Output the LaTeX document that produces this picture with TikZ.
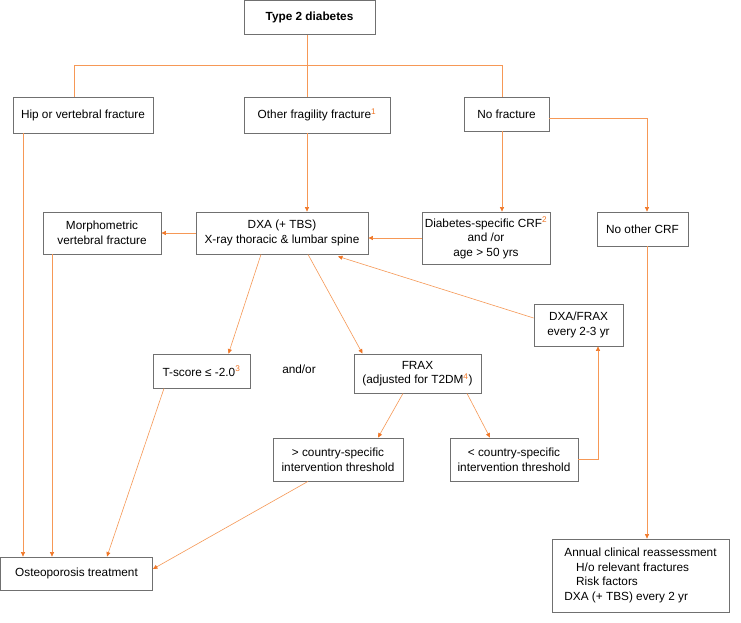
\documentclass[tikz,border=0pt]{standalone}
\usepackage{fontspec}
\setmainfont{Liberation Sans}
\usetikzlibrary{arrows.meta}
\definecolor{linkor}{RGB}{246,152,86}
\definecolor{tipor}{RGB}{240,118,38}
\definecolor{boxgray}{RGB}{112,112,112}
\newcommand{\fnote}[1]{\textsuperscript{\textcolor{tipor}{#1}}}

\begin{document}
\begin{tikzpicture}[x=1pt, y=-1pt,
    font=\fontsize{11.8}{14.6}\selectfont,
    box/.style={draw=boxgray, line width=0.8pt, fill=white, inner sep=0pt, align=center},
    link/.style={draw=linkor, line width=0.6pt},
    flow/.style={link, -{Triangle[length=4.5pt, width=4pt, color=tipor]}}]
    \fill[white] (0,0) rectangle (741,623);
    \useasboundingbox (0,0) rectangle (741,623);
    % top row
    \node[box, minimum width=131pt, minimum height=34pt, font=\fontsize{11.8}{14.6}\selectfont\bfseries] (t2d) at (309.5,17.5) {Type 2 diabetes};
    \node[box, minimum width=140pt, minimum height=36pt] (hip) at (83,115) {Hip or vertebral fracture};
    \node[box, minimum width=146pt, minimum height=36pt] (other) at (317,115) {Other fragility fracture\fnote{1}};
    \node[box, minimum width=85pt, minimum height=34pt] (nofx) at (506.5,114) {No fracture};
    \coordinate (busL) at (74,65);
    \coordinate (bus) at (307,65);
    \coordinate (busR) at (502,65);
    \coordinate (side) at (647,118);
    % second row
    \node[box, minimum width=118pt, minimum height=42pt] (morph) at (102,233) {Morphometric\\vertebral fracture};
    \node[box, minimum width=172pt, minimum height=42pt] (dxa) at (282,233) {DXA (+ TBS)\\X-ray thoracic \& lumbar spine};
    \node[box, minimum width=128pt, minimum height=52pt] (crf) at (486,238) {Diabetes-specific CRF\fnote{2}\\and /or\\age > 50 yrs};
    \node[box, minimum width=91pt, minimum height=34pt] (noother) at (642.5,229) {No other CRF};
    \node[box, minimum width=89pt, minimum height=42pt] (dxafrax) at (578.5,325) {DXA/FRAX\\every 2-3 yr};
    % assessment
    \node[box, minimum width=97pt, minimum height=34pt] (tscore) at (201.5,371) {T-score ≤ -2.0\fnote{3}};
    \node (andor) at (299,369) {and/or};
    \node[box, minimum width=127pt, minimum height=39pt] (frax) at (417.5,373.5) {FRAX\\(adjusted for T2DM\fnote{4})};
    \node[box, minimum width=130pt, minimum height=43pt] (above) at (338,459.5) {> country-specific\\intervention threshold};
    \node[box, minimum width=128pt, minimum height=43pt] (below) at (514,459.5) {< country-specific\\intervention threshold};
    % outcomes
    \node[box, minimum width=152pt, minimum height=33pt] (osteo) at (76.5,573.5) {Osteoporosis treatment};
    \node[box, minimum width=177pt, minimum height=73pt, align=left] (annual) at (640.5,575.5) {Annual clinical reassessment\\\hspace*{1em}H/o relevant fractures\\\hspace*{1em}Risk factors\\DXA (+ TBS) every 2 yr};

    \draw[link] (t2d.south -| bus) -- (other.north -| bus);
    \draw[link] (hip.north -| busL) |- (busR) -- (nofx.north -| busR);
    \draw[flow] (other.south -| bus) -- (dxa.north -| bus);
    \draw[flow] (nofx.south -| busR) -- (crf.north -| busR);
    \draw[flow] (nofx.east |- side) -| (noother.north -| side);
    \draw[flow] (dxa.west) -- (morph.east);
    \draw[flow] (crf.west) -- (crf.west -| dxa.east);
    \draw[flow] ([xshift=-21pt]dxa.south) -- ([xshift=27pt]tscore.north);
    \draw[flow] ([xshift=26pt]dxa.south) -- ([xshift=-55pt]frax.north);
    \draw[flow] ([xshift=-14.5pt]frax.south) -- ([xshift=40pt]above.north);
    \draw[flow] ([xshift=49.5pt]frax.south) -- ([xshift=-24pt]below.north);
    \draw[flow] (below.east) -| ([xshift=19.5pt]dxafrax.south);
    \draw[flow] ([yshift=7pt]dxafrax.west) -- ([xshift=56pt, yshift=-2pt]dxa.south);
    \draw[flow] ([xshift=-60pt]hip.south) -- ([xshift=-60pt]hip.south |- osteo.north);
    \draw[flow] ([xshift=-50pt]morph.south) -- ([xshift=-50pt]morph.south |- osteo.north);
    \draw[flow] ([xshift=-37.5pt]tscore.south) -- ([xshift=30.5pt]osteo.north);
    \draw[flow] ([xshift=-30pt]above.south) -- ([yshift=4.5pt]osteo.east);
    \draw[flow] (noother.south -| side) -- (annual.north -| side);
\end{tikzpicture}
\end{document}
